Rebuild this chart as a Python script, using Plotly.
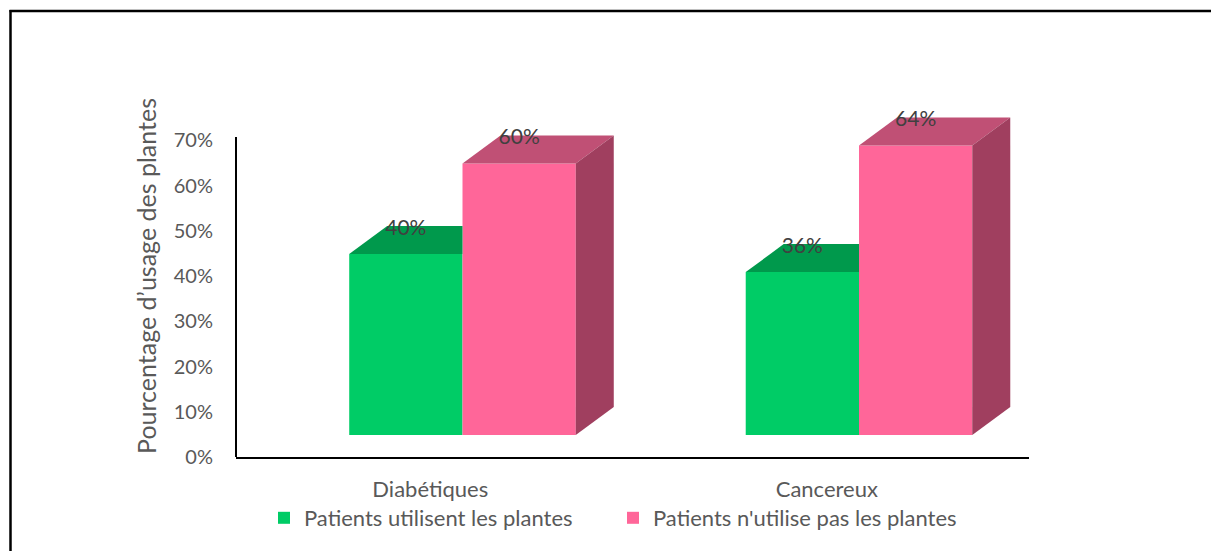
import plotly.graph_objects as go

# ---------------- data ----------------
categories = ["Diabétiques", "Cancereux"]
series_names = ["Patients utilisent les plantes", "Patients n'utilise pas les plantes"]
use_plants = [0.40, 0.36]
no_plants = [0.60, 0.64]
value_labels_use = ["40%", "36%"]
value_labels_no = ["60%", "64%"]
y_tickvals = [0, 0.1, 0.2, 0.3, 0.4, 0.5, 0.6, 0.7]
y_ticktext = ["0%", "10%", "20%", "30%", "40%", "50%", "60%", "70%"]

# ---------------- style / geometry ----------------
W, H = 1211, 551
ML, MR, MT, MB = 236, 182, 95, 94
Y_MAX = 0.80
AXIS_TOP = 0.707
FLOOR = 0.0486      # raised floor of the 3D bars
DEPTH_Y = 0.0619    # 3D depth (vertical part)
DEPTH_X = 0.0958    # 3D depth (horizontal part)
BAR_W = 0.2857
OFF_USE = -0.0716
OFF_NO = 0.2141

FRONT = ["#00CC66", "#FF6699"]
TOP = ["#00994C", "#C05075"]
SIDE = ["#007A3D", "#A03F5F"]
FONT = "Lato"
TICK_COLOR = "#595959"
LABEL_COLOR = "#404040"

plot_w = W - ML - MR
plot_h = H - MT - MB


def px_x(px):
    return (px - ML) / plot_w


def px_y(py):
    return (H - MB - py) / plot_h


centers = [i + 0.5 for i in range(len(categories))]

fig = go.Figure()

# front faces (bars)
for s, (vals, off) in enumerate([(use_plants, OFF_USE), (no_plants, OFF_NO)]):
    fig.add_trace(go.Bar(
        x=[c + off for c in centers], y=vals, base=[FLOOR] * len(vals),
        width=BAR_W, marker=dict(color=FRONT[s], line=dict(width=0)),
        name=series_names[s], showlegend=True, hoverinfo="skip",
    ))

# 3D top and side faces
for i, c in enumerate(centers):
    for s, (vals, off) in enumerate([(use_plants, OFF_USE), (no_plants, OFF_NO)]):
        v = vals[i]
        xl = c + off - BAR_W / 2
        xr = c + off + BAR_W / 2
        t = FLOOR + v
        if s == 0:
            # top face, occluded on the right by the adjacent taller front face
            other_top = FLOOR + no_plants[i]
            if other_top >= t + DEPTH_Y:
                xs = [xl, xr, xr, xl + DEPTH_X, xl]
                ys = [t, t, t + DEPTH_Y, t + DEPTH_Y, t]
            else:
                xs = [xl, xr, xr + DEPTH_X, xl + DEPTH_X, xl]
                ys = [t, t, t + DEPTH_Y, t + DEPTH_Y, t]
            fig.add_trace(go.Scatter(x=xs, y=ys, fill="toself", fillcolor=TOP[s],
                                     mode="lines", line=dict(width=0),
                                     showlegend=False, hoverinfo="skip"))
        else:
            fig.add_trace(go.Scatter(
                x=[xl, xr, xr + DEPTH_X, xl + DEPTH_X, xl],
                y=[t, t, t + DEPTH_Y, t + DEPTH_Y, t],
                fill="toself", fillcolor=TOP[s], mode="lines", line=dict(width=0),
                showlegend=False, hoverinfo="skip"))
            fig.add_trace(go.Scatter(
                x=[xr, xr + DEPTH_X, xr + DEPTH_X, xr, xr],
                y=[FLOOR, FLOOR + DEPTH_Y, t + DEPTH_Y, t, FLOOR],
                fill="toself", fillcolor=SIDE[s], mode="lines", line=dict(width=0),
                showlegend=False, hoverinfo="skip"))

# value labels
lab_x, lab_y, lab_t = [], [], []
for i, c in enumerate(centers):
    for vals, off, labs in [(use_plants, OFF_USE, value_labels_use), (no_plants, OFF_NO, value_labels_no)]:
        lab_x.append(c + off)
        lab_y.append(FLOOR + vals[i] + DEPTH_Y - 0.008)
        lab_t.append(labs[i])
fig.add_trace(go.Scatter(x=lab_x, y=lab_y, text=lab_t, mode="text",
                         textposition="middle center",
                         textfont=dict(family=FONT, size=21, color=LABEL_COLOR),
                         showlegend=False, hoverinfo="skip", cliponaxis=False))

shapes = [
    # vertical value axis line
    dict(type="line", xref="paper", yref="paper", x0=0, x1=0, y0=0, y1=AXIS_TOP / Y_MAX,
         line=dict(color="black", width=2)),
    # outer frame (left & top)
    dict(type="line", xref="paper", yref="paper", x0=px_x(10.5), x1=px_x(10.5),
         y0=px_y(10), y1=px_y(H + 10), line=dict(color="black", width=2.5)),
    dict(type="line", xref="paper", yref="paper", x0=px_x(9.5), x1=px_x(W + 10),
         y0=px_y(11), y1=px_y(11), line=dict(color="black", width=2.5)),
]

fig.update_layout(
    width=W, height=H,
    margin=dict(l=ML, r=MR, t=MT, b=MB, pad=0),
    paper_bgcolor="white", plot_bgcolor="white",
    barmode="overlay",
    font=dict(family=FONT, size=20, color=TICK_COLOR),
    showlegend=True,
    legend=dict(orientation="h", x=px_x(264), y=px_y(518), xanchor="left", yanchor="middle",
                font=dict(family=FONT, size=22, color=TICK_COLOR),
                entrywidth=304, entrywidthmode="pixels",
                bgcolor="rgba(0,0,0,0)", traceorder="normal"),
    shapes=shapes,
    xaxis=dict(range=[0, len(categories)], tickvals=[c - 0.01 for c in centers],
               ticktext=categories, showgrid=False, zeroline=False,
               showline=True, linecolor="black", linewidth=2, ticks="",
               tickfont=dict(family=FONT, size=22, color=TICK_COLOR),
               ticklabelstandoff=12, fixedrange=True),
    yaxis=dict(range=[0, Y_MAX], tickvals=y_tickvals, ticktext=y_ticktext,
               showgrid=False, zeroline=False, showline=False, ticks="",
               tickfont=dict(family=FONT, size=20, color=TICK_COLOR),
               ticklabelstandoff=22,
               title=dict(text="Pourcentage d’usage des plantes",
                          font=dict(family=FONT, size=25, color=TICK_COLOR), standoff=10),
               fixedrange=True),
)

fig.write_html("out.html")
